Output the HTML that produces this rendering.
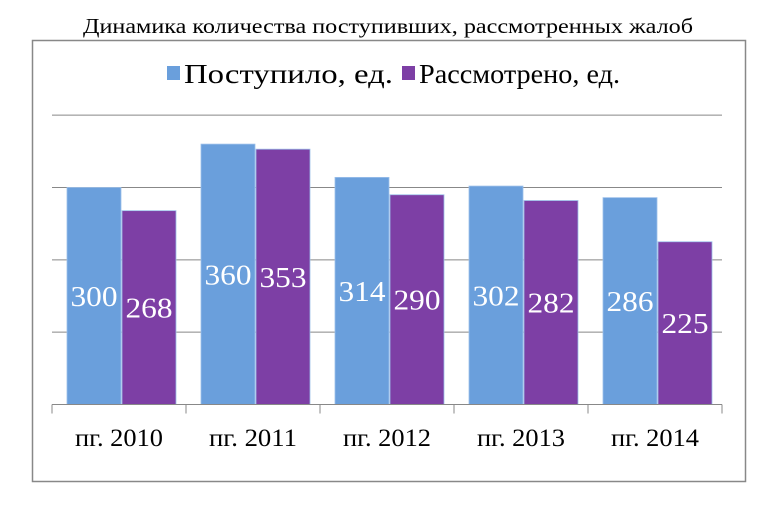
<!DOCTYPE html>
<html><head><meta charset="utf-8"><style>
body{margin:0;background:#fff;}
svg text{font-family:"Liberation Serif",serif;}
</style></head><body>
<svg id="chart" width="775" height="508" xmlns="http://www.w3.org/2000/svg">
<text x="83" y="33" font-size="21" textLength="610" lengthAdjust="spacingAndGlyphs">Динамика количества поступивших, рассмотренных жалоб</text>
<rect x="32.5" y="40.5" width="713" height="441" fill="none" stroke="#888" stroke-width="1.5"/>
<g>
<rect x="167" y="66" width="13" height="14" fill="#6a9fdc"/>
<text x="184" y="83" font-size="27" textLength="209" lengthAdjust="spacingAndGlyphs">Поступило, ед.</text>
<rect x="402" y="66" width="13" height="14" fill="#7d3fa5"/>
<text x="419" y="83" font-size="27" textLength="201" lengthAdjust="spacingAndGlyphs">Рассмотрено, ед.</text>
</g>
<g id="grid"></g><g id="bars"></g><g id="axis"></g>
</svg>
<script>
const categories=["пг. 2010","пг. 2011","пг. 2012","пг. 2013","пг. 2014"];
const received=[300,360,314,302,286];
const reviewed=[268,353,290,282,225];
const gridValues=[100,200,300,400];
const NS="http://www.w3.org/2000/svg";
const x0=52,x1=722,yBase=404.5,pxPer=0.7233;
const y=v=>yBase-v*pxPer;
const band=(x1-x0)/categories.length;
function mk(tag,attrs,parent){const e=document.createElementNS(NS,tag);for(const k in attrs)e.setAttribute(k,attrs[k]);document.getElementById(parent).appendChild(e);return e;}
gridValues.forEach(v=>{
 const l=mk('line',{x1:x0,x2:x1,y1:y(v),y2:y(v),stroke:'#888','stroke-width':1},'grid');
 
 
});
const bl=mk('line',{x1:x0,x2:x1,y1:yBase,y2:yBase,stroke:'#888','stroke-width':1},'axis');


for(let i=0;i<=categories.length;i++){
 const t=mk('line',{x1:x0+i*band,x2:x0+i*band,y1:yBase,y2:yBase+9,stroke:'#888'},'axis');
 
 
}
const bw=54;
categories.forEach((c,i)=>{
 const gx=x0+i*band+15;
 [[received,'#6a9fdc',0,'received'],[reviewed,'#7d3fa5',bw+1,'reviewed']].forEach(([arr,col,off,nm])=>{
  const v=arr[i];
  const r=mk('rect',{x:gx+off,y:y(v),width:bw,height:v*pxPer,fill:col,stroke:'#9cc0ea','stroke-width':0.8},'bars');
  
  
  const t=mk('text',{x:gx+off+bw/2-23.5,y:(y(v)+yBase)/2+10,'font-size':29,fill:'#fff',textLength:47,lengthAdjust:'spacingAndGlyphs'},'bars');
  t.textContent=v;
  
  
 });
 const lt=mk('text',{x:x0+(i+0.5)*band-44,y:446,'font-size':25,textLength:88,lengthAdjust:'spacingAndGlyphs'},'axis');
 lt.textContent=c;
 
 
});
</script>
</body></html>
